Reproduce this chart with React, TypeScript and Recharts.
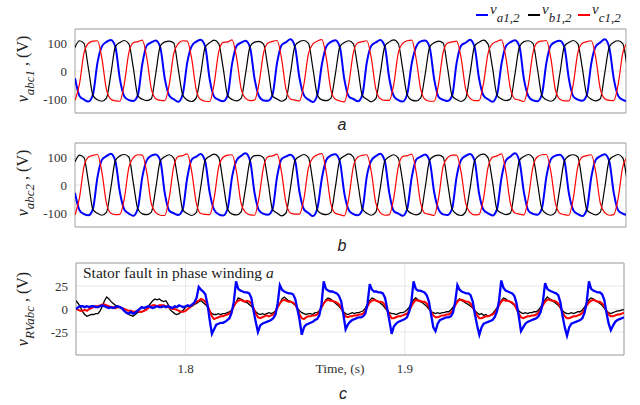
import { LineChart, Line, XAxis, YAxis, CartesianGrid, ReferenceArea } from "recharts";

// time base (s)
const T0 = 1.75;
const STEP_AB = 0.002;
const STEP_C = 0.001;
const T_END_AB = 1.99545;
const T_END_C = 2.0;

const VOLT_TICKS = [-100, 0, 100];
const FAULT_TICKS = [-25, 0, 25];
const TIME_TICKS = [1.8, 1.9];

// converter 1 phase voltages (V), one row per 20 ms cycle
const va1 = [
  -26, -89, -102, -109, -84, 29, 88, 104, 111, 86,
  -29, -91, -104, -107, -86, 26, 91, 102, 109, 84,
  -27, -88, -101, -110, -83, 30, 89, 105, 112, 87,
  -30, -92, -103, -108, -87, 27, 90, 101, 108, 83,
  -28, -90, -105, -106, -85, 28, 92, 103, 113, 86,
  -25, -87, -102, -111, -84, 25, 88, 104, 110, 85,
  -31, -91, -100, -108, -86, 31, 90, 102, 111, 88,
  -26, -89, -104, -109, -82, 27, 87, 106, 109, 84,
  -29, -93, -103, -107, -88, 29, 91, 101, 112, 86,
  -27, -88, -101, -110, -85, 26, 89, 103, 110, 87,
  -30, -90, -105, -108, -83, 30, 92, 104, 108, 85,
  -28, -91, -102, -106, -86, 28, 88, 102, 113, 84,
  -27, -89, -103, -108,
];
const vb1 = [
  84, 108, 99, 8, -87, -103, -108, -97, -10, 87,
  102, 109, 97, 10, -89, -101, -106, -99, -8, 89,
  104, 107, 100, 7, -86, -104, -109, -96, -11, 86,
  101, 110, 98, 11, -88, -102, -107, -98, -9, 88,
  103, 106, 96, 9, -90, -100, -108, -100, -7, 90,
  105, 109, 99, 8, -87, -103, -106, -97, -10, 87,
  102, 108, 97, 10, -88, -101, -110, -99, -9, 88,
  104, 111, 98, 7, -86, -104, -107, -96, -11, 86,
  101, 107, 100, 9, -89, -102, -109, -98, -8, 89,
  103, 110, 96, 11, -87, -100, -106, -100, -10, 87,
  105, 108, 99, 8, -88, -103, -108, -97, -9, 88,
  102, 109, 97, 10, -86, -101, -107, -99, -7, 86,
  103, 108, 98, 9,
];
const vc1 = [
  -105, -46, 64, 99, 107, 108, 44, -66, -101, -107,
  -108, -44, 66, 101, 105, 110, 46, -64, -99, -105,
  -106, -47, 63, 98, 108, 107, 43, -67, -102, -108,
  -109, -45, 67, 102, 104, 111, 47, -63, -98, -106,
  -104, -43, 65, 100, 106, 109, 45, -65, -100, -104,
  -107, -46, 62, 97, 107, 112, 44, -68, -101, -107,
  -110, -44, 66, 101, 105, 108, 46, -64, -99, -105,
  -105, -48, 64, 99, 108, 110, 42, -66, -102, -108,
  -108, -45, 67, 100, 104, 107, 47, -63, -98, -106,
  -106, -43, 63, 98, 106, 111, 45, -65, -100, -104,
  -109, -47, 65, 102, 107, 109, 44, -67, -101, -107,
  -107, -45, 66, 99, 105, 108, 46, -64, -99, -105,
  -106, -46, 64, 100,
];

// converter 2 phase voltages (V)
const va2 = [
  -28, -90, -104, -108, -85, 27, 90, 103, 112, 85,
  -26, -88, -102, -110, -83, 29, 89, 105, 109, 87,
  -30, -92, -101, -107, -87, 26, 91, 101, 111, 84,
  -27, -89, -105, -109, -84, 30, 88, 104, 113, 86,
  -29, -91, -103, -106, -86, 28, 92, 102, 108, 88,
  -25, -87, -100, -111, -82, 25, 90, 106, 110, 83,
  -31, -90, -104, -108, -88, 31, 87, 103, 112, 86,
  -28, -93, -102, -110, -85, 27, 91, 101, 109, 85,
  -26, -88, -105, -107, -84, 29, 89, 104, 111, 87,
  -30, -89, -101, -109, -86, 26, 88, 102, 113, 84,
  -27, -92, -103, -106, -83, 30, 92, 105, 108, 86,
  -29, -90, -104, -111, -87, 28, 90, 103, 110, 85,
  -28, -91, -102, -107,
];
const vb2 = [
  83, 107, 98, 9, -88, -101, -108, -98, -9, 88,
  104, 109, 100, 7, -86, -103, -106, -97, -11, 86,
  101, 108, 96, 10, -89, -102, -109, -99, -8, 89,
  103, 110, 99, 8, -87, -104, -107, -96, -10, 87,
  105, 106, 97, 11, -88, -100, -110, -100, -9, 88,
  102, 109, 98, 9, -90, -103, -106, -98, -7, 90,
  104, 111, 100, 8, -86, -101, -108, -97, -10, 86,
  101, 108, 96, 10, -89, -102, -107, -99, -9, 89,
  103, 107, 99, 7, -87, -104, -109, -96, -11, 87,
  105, 110, 97, 11, -88, -100, -106, -100, -8, 88,
  102, 109, 98, 9, -86, -103, -108, -98, -10, 86,
  104, 108, 100, 8, -89, -101, -107, -97, -9, 89,
  103, 109, 97, 10,
];
const vc2 = [
  -107, -45, 66, 100, 106, 109, 45, -65, -101, -106,
  -105, -47, 63, 98, 108, 107, 43, -67, -99, -108,
  -109, -44, 67, 102, 105, 111, 47, -63, -102, -105,
  -106, -46, 64, 99, 107, 108, 44, -66, -98, -107,
  -108, -43, 65, 101, 104, 110, 46, -64, -100, -104,
  -104, -48, 62, 97, 108, 112, 42, -68, -101, -106,
  -110, -45, 66, 100, 106, 108, 47, -65, -99, -108,
  -106, -46, 64, 102, 105, 110, 45, -66, -102, -105,
  -109, -44, 67, 98, 107, 107, 46, -63, -98, -107,
  -105, -47, 63, 99, 104, 111, 44, -67, -100, -104,
  -107, -43, 65, 101, 108, 109, 47, -64, -101, -106,
  -108, -46, 66, 100, 105, 108, 45, -65, -99, -108,
  -106, -45, 65, 99,
];

// residual voltages (V), 1 ms samples, fault near 1.805 s
const vRVa = [
  0, 2, 3, 3, 2, 3, 2, 3, 3, 2,
  2, 3, 4, 3, 2, 1, 2, 1, 2, 3,
  2, 1, -2, -4, -5, -3, -5, -4, -2, 0,
  2, 1, 2, 3, 2, 1, 2, 3, 2, 2,
  3, 2, 3, 2, 1, 3, 2, 4, 3, 2,
  3, 4, 3, 5, 7, 12, 24, 21, 19, 16,
  5, -12, -27, -22, -17, -16, -15, -15, -14, -12,
  -10, -4, 8, 30, 22, 20, 19, 18, 18, 17,
  12, -2, -14, -25, -18, -16, -15, -14, -13, -12,
  -10, -6, 6, 26, 21, 19, 18, 17, 17, 16,
  11, 0, -12, -28, -20, -17, -16, -15, -14, -12,
  -11, -7, 5, 30, 22, 20, 19, 19, 18, 17,
  14, 8, -6, -22, -17, -14, -12, -11, -10, -9,
  -9, -8, -5, 6, 27, 21, 19, 19, 18, 18,
  17, 12, 0, -13, -27, -19, -16, -14, -13, -12,
  -11, -9, -3, 8, 30, 22, 20, 20, 19, 18,
  15, 8, -6, -20, -24, -16, -12, -11, -10, -9,
  -9, -8, -4, 8, 26, 21, 19, 18, 17, 17,
  15, 8, -6, -18, -28, -20, -16, -15, -14, -13,
  -12, -9, -3, 9, 31, 23, 20, 19, 18, 17,
  14, 6, -8, -24, -20, -16, -14, -13, -12, -11,
  -10, -8, -3, 8, 28, 22, 20, 19, 18, 17,
  15, 7, -8, -20, -29, -20, -16, -15, -14, -13,
  -12, -10, -4, 8, 30, 22, 20, 19, 18, 18,
  16, 10, -4, -16, -23, -18, -14, -12, -11, -10,
  -9,
];
const vRVb = [
  9, 6, 2, -3, -6, -8, -7, -6, -6, -5,
  -5, -2, 3, 9, 13, 11, 8, 6, 4, 3,
  2, 0, -2, -4, -6, -7, -8, -6, -4, -3,
  -3, -2, 0, 3, 6, 9, 11, 10, 11, 9,
  8, 9, 5, -1, -3, -5, -6, -5, -3, -1,
  2, 3, 2, 3, 5, 6, 8, 9, 7, 5,
  2, -2, -5, -6, -6, -5, -6, -5, -5, -4,
  -3, -1, 3, 7, 12, 11, 10, 8, 7, 5,
  3, 0, -3, -5, -6, -5, -6, -5, -4, -5,
  -4, -2, 2, 6, 11, 13, 11, 9, 8, 6,
  4, 1, -2, -4, -5, -6, -5, -5, -6, -4,
  -4, -2, 1, 6, 10, 12, 11, 9, 7, 5,
  3, 0, -3, -5, -6, -5, -4, -5, -4, -4,
  -3, -2, 1, 5, 9, 12, 11, 9, 8, 6,
  4, 1, -2, -4, -5, -5, -6, -5, -4, -4,
  -3, -1, 2, 6, 10, 12, 10, 8, 7, 5,
  3, 0, -3, -4, -5, -4, -5, -4, -4, -3,
  -3, -1, 2, 5, 9, 11, 9, 8, 6, 5,
  3, 1, -2, -4, -6, -5, -7, -6, -8, -7,
  -5, -2, 1, 5, 9, 12, 11, 9, 8, 6,
  4, 1, -2, -4, -5, -4, -5, -4, -4, -3,
  -3, -1, 2, 6, 10, 13, 11, 10, 8, 6,
  4, 1, -2, -4, -5, -5, -4, -5, -4, -3,
  -3, -1, 2, 6, 10, 12, 11, 9, 8, 6,
  4, 1, -2, -4, -5, -4, -3, -2, -2, -1,
  -1,
];
const vRVc = [
  0, -1, -2, -2, -1, -2, 0, 1, 2, 3,
  3, 4, 5, 5, 4, 3, 2, 2, 1, 2,
  2, 1, 0, -1, -2, -2, -3, -3, -2, -3,
  -3, -2, -1, 1, 3, 4, 4, 3, 4, 4,
  4, 3, 2, 1, 0, 0, -1, -2, -3, -3,
  -2, 0, 2, 4, 6, 8, 9, 11, 10, 8,
  4, -2, -8, -11, -10, -9, -8, -8, -7, -6,
  -5, -2, 3, 7, 9, 10, 9, 8, 9, 8,
  6, 1, -5, -9, -10, -9, -8, -7, -8, -7,
  -6, -3, 2, 6, 9, 10, 9, 8, 8, 7,
  5, 0, -6, -10, -11, -9, -8, -8, -7, -7,
  -6, -3, 2, 6, 9, 10, 9, 9, 8, 7,
  5, 1, -4, -8, -9, -8, -8, -7, -7, -6,
  -6, -5, -2, 3, 7, 9, 10, 9, 8, 8,
  7, 4, -1, -6, -10, -10, -9, -8, -8, -7,
  -6, -5, -2, 3, 7, 10, 9, 9, 8, 8,
  6, 2, -3, -7, -9, -9, -8, -7, -7, -6,
  -6, -4, -1, 4, 8, 10, 10, 9, 8, 8,
  6, 2, -3, -7, -10, -10, -9, -8, -8, -7,
  -6, -4, -1, 4, 8, 10, 9, 9, 8, 7,
  5, 0, -5, -9, -10, -9, -8, -8, -7, -7,
  -6, -4, -1, 4, 8, 10, 10, 9, 9, 8,
  6, 2, -4, -8, -10, -10, -9, -8, -8, -7,
  -6, -4, -1, 4, 7, 9, 10, 9, 8, 8,
  6, 3, -2, -6, -8, -8, -7, -6, -6, -5,
  -4,
];

const BLUE = "#0000ff";
const BLACK = "#000000";
const RED = "#ff0000";
const FRAME = "#a3a3a3";
const GRID = "#e8e8e8";
const SERIF = "'Liberation Serif', 'Times New Roman', serif";
const SANS = "'Liberation Sans', Arial, sans-serif";

type Row = { t: number; a: number; b: number; c: number };

function buildRows(step: number, a: number[], b: number[], c: number[]): Row[] {
  return a.map((v, i) => ({ t: +(T0 + i * step).toFixed(4), a: v, b: b[i], c: c[i] }));
}

const rows1 = buildRows(STEP_AB, va1, vb1, vc1);
const rows2 = buildRows(STEP_AB, va2, vb2, vc2);
const rowsRV = buildRows(STEP_C, vRVa, vRVb, vRVc);

// serif tick labels, left axis right-aligned, bottom axis centred
function YTick({ x, y, payload }: any) {
  return (
    <text x={x} y={y} dy={4.5} textAnchor="end" fontFamily={SERIF} fontSize={13} fill="#333">
      {payload.value}
    </text>
  );
}

function XTick({ x, y, payload }: any) {
  return (
    <text x={x} y={y} dy={10} textAnchor="middle" fontFamily={SERIF} fontSize={13} fill="#333">
      {payload.value}
    </text>
  );
}

function PhasePanel({ rows, top }: { rows: Row[]; top: number }) {
  return (
    <div style={{ position: "absolute", left: 0, top }}>
      <LineChart width={640} height={130} data={rows} margin={{ top: 29, right: 14, bottom: 17, left: 35 }}>
        <CartesianGrid vertical={false} stroke={GRID} />
        <XAxis dataKey="t" type="number" domain={[T0, T_END_AB]} allowDataOverflow hide />
        <YAxis
          type="number"
          domain={[-150, 150]}
          ticks={VOLT_TICKS}
          width={40}
          tickSize={0}
          tickMargin={8}
          axisLine={false}
          tick={<YTick />}
        />
        <ReferenceArea x1={T0} x2={T_END_AB} y1={-150} y2={150} fill="none" stroke={FRAME} />
        <Line type="monotone" dataKey="a" stroke={BLUE} strokeWidth={2} dot={false} isAnimationActive={false} />
        <Line type="monotone" dataKey="b" stroke={BLACK} strokeWidth={1.2} dot={false} isAnimationActive={false} />
        <Line type="monotone" dataKey="c" stroke={RED} strokeWidth={1.2} dot={false} isAnimationActive={false} />
      </LineChart>
    </div>
  );
}

function ResidualPanel() {
  return (
    <div style={{ position: "absolute", left: 0, top: 250 }}>
      <LineChart width={640} height={150} data={rowsRV} margin={{ top: 13, right: 16, bottom: 15, left: 36 }}>
        <CartesianGrid stroke={GRID} />
        <XAxis
          dataKey="t"
          type="number"
          domain={[T0, T_END_C]}
          allowDataOverflow
          ticks={TIME_TICKS}
          height={30}
          tickSize={0}
          tickMargin={8}
          axisLine={false}
          tick={<XTick />}
        />
        <YAxis
          type="number"
          domain={[-50, 50]}
          ticks={FAULT_TICKS}
          width={40}
          tickSize={0}
          tickMargin={8}
          axisLine={false}
          tick={<YTick />}
        />
        <ReferenceArea x1={T0} x2={T_END_C} y1={-50} y2={50} fill="none" stroke={FRAME} />
        <Line dataKey="b" stroke={BLACK} strokeWidth={1.3} dot={false} isAnimationActive={false} />
        <Line dataKey="c" stroke={RED} strokeWidth={2} dot={false} isAnimationActive={false} />
        <Line dataKey="a" stroke={BLUE} strokeWidth={2.3} dot={false} isAnimationActive={false} />
      </LineChart>
    </div>
  );
}

function YLabel({ x, y, sub }: { x: number; y: number; sub: string }) {
  return (
    <text x={x} y={y} transform={`rotate(-90 ${x} ${y})`} textAnchor="middle" fontFamily={SERIF} fontSize={16} fill="#222">
      <tspan fontStyle="italic">v</tspan>
      <tspan fontStyle="italic" fontSize={13} dy={6}>{sub}</tspan>
      <tspan dy={-6}> , (V)</tspan>
    </text>
  );
}

function LegendItem({ x, color, sub }: { x: number; color: string; sub: string }) {
  return (
    <g>
      <line x1={x} x2={x + 12} y1={15} y2={15} stroke={color} strokeWidth={2} />
      <text x={x + 14} y={14} fontFamily={SERIF} fontSize={15} fill="#222">
        <tspan fontStyle="italic">v</tspan>
        <tspan fontStyle="italic" fontSize={13} dy={8}>{sub}</tspan>
      </text>
    </g>
  );
}

export default function App() {
  return (
    <div
      style={{
        position: "absolute",
        left: 0,
        top: 0,
        width: 640,
        height: 405,
        background: "#fff",
        overflow: "hidden",
        fontFamily: SERIF,
      }}
    >
      <PhasePanel rows={rows1} top={0} />
      <PhasePanel rows={rows2} top={114} />
      <ResidualPanel />
      <svg width={640} height={405} style={{ position: "absolute", left: 0, top: 0, pointerEvents: "none" }}>
        <LegendItem x={476} color={BLUE} sub="a1,2" />
        <LegendItem x={528} color={BLACK} sub="b1,2" />
        <LegendItem x={578} color={RED} sub="c1,2" />
        <YLabel x={28} y={69} sub="abc1" />
        <YLabel x={28} y={183} sub="abc2" />
        <YLabel x={28} y={309} sub="RVabc" />
        <text x={83} y={278} fontFamily={SERIF} fontSize={15.5} fill="#222">
          Stator fault in phase winding <tspan fontStyle="italic">a</tspan>
        </text>
        <text x={340} y={373} textAnchor="middle" fontFamily={SERIF} fontSize={13.5} fill="#333">Time, (s)</text>
        <text x={342} y={130} textAnchor="middle" fontFamily={SANS} fontStyle="italic" fontSize={16} fill="#222">a</text>
        <text x={342} y={251} textAnchor="middle" fontFamily={SANS} fontStyle="italic" fontSize={16} fill="#222">b</text>
        <text x={343} y={399} textAnchor="middle" fontFamily={SANS} fontStyle="italic" fontSize={16} fill="#222">c</text>
      </svg>
    </div>
  );
}
